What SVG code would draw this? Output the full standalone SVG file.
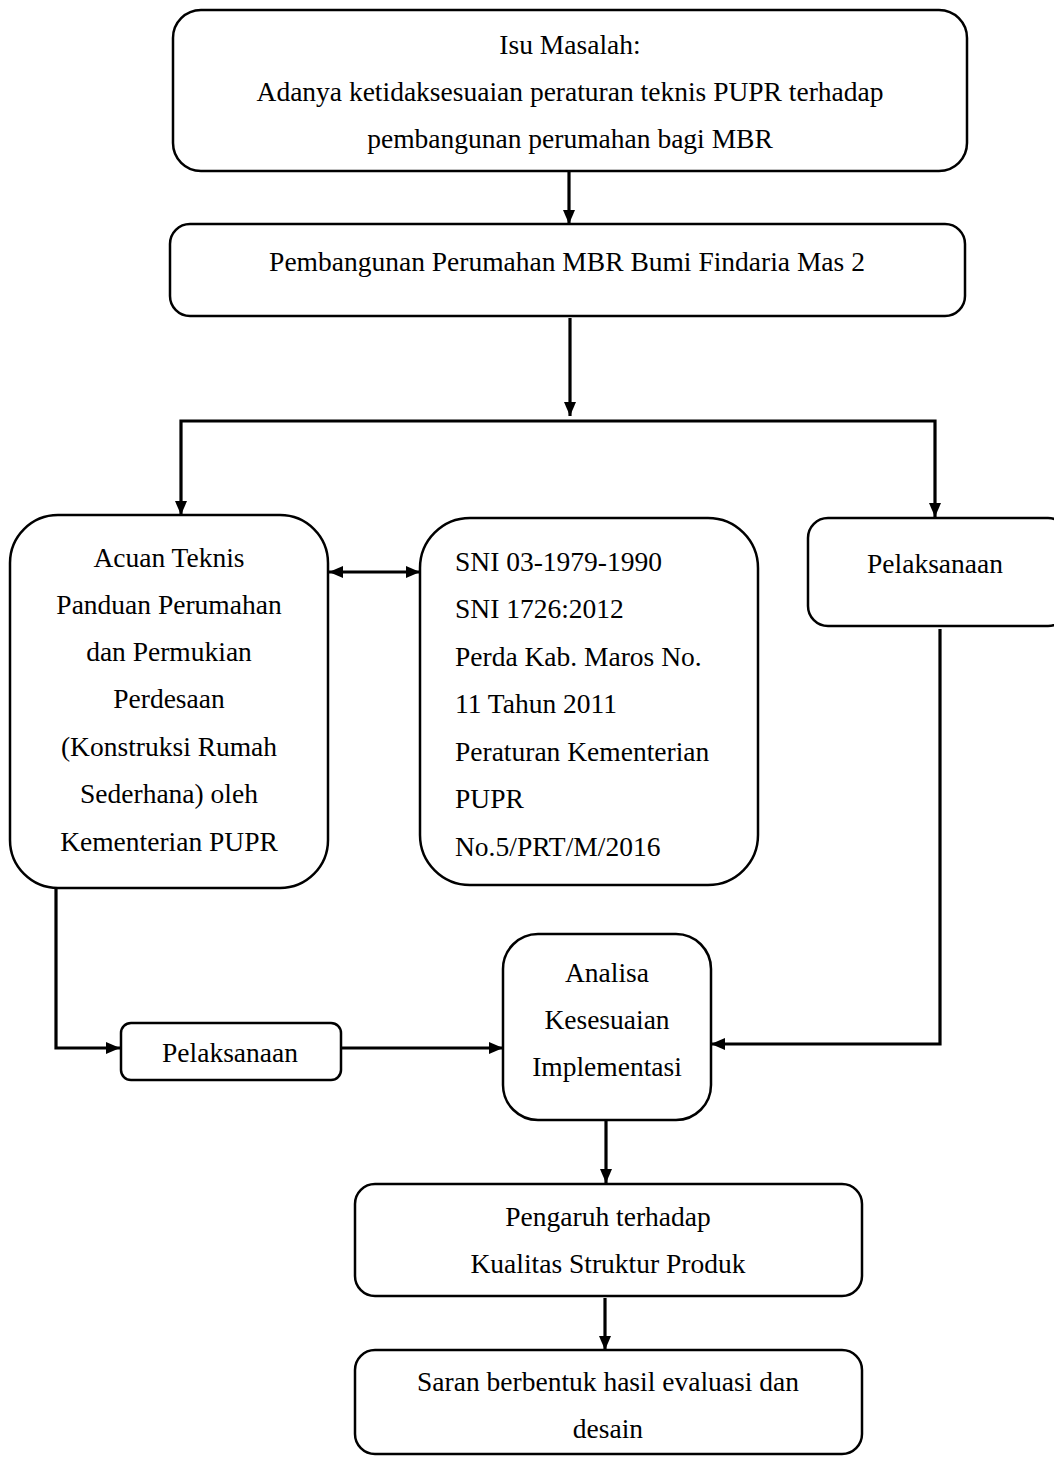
<svg xmlns="http://www.w3.org/2000/svg" width="1054" height="1457" viewBox="0 0 1054 1457">
<style>
  .box { fill: #ffffff; stroke: #000000; stroke-width: 2.5; }
  .t { font-family: "Liberation Serif", "Times New Roman", serif; font-size: 27.5px; fill: #000000; }
  .c { text-anchor: middle; }
  .conn { fill: none; stroke: #000000; stroke-width: 3.2; }
</style>
<defs>
  <marker id="ah" viewBox="0 0 14 12" refX="14" refY="6" markerWidth="14" markerHeight="12" markerUnits="userSpaceOnUse" orient="auto-start-reverse">
    <path d="M0,0 L14,6 L0,12 z" fill="#000000"/>
  </marker>
</defs>
<rect x="0" y="0" width="1054" height="1457" fill="#ffffff"/>

<g id="connectors">
  <path class="conn" d="M569,172 V224" marker-end="url(#ah)"/>
  <path class="conn" d="M570,318 V416" marker-end="url(#ah)"/>
  <path class="conn" d="M570,421 H181 V515" marker-end="url(#ah)"/>
  <path class="conn" d="M570,421 H935 V517" marker-end="url(#ah)"/>
  <path class="conn" d="M329,572 H420" marker-start="url(#ah)" marker-end="url(#ah)"/>
  <path class="conn" d="M56,888 V1048 H120" marker-end="url(#ah)"/>
  <path class="conn" d="M341,1048 H503" marker-end="url(#ah)"/>
  <path class="conn" d="M940,629 V1044 H711" marker-end="url(#ah)"/>
  <path class="conn" d="M606,1120 V1183" marker-end="url(#ah)"/>
  <path class="conn" d="M605,1298 V1350" marker-end="url(#ah)"/>
</g>

<g id="isu">
  <rect class="box" x="173" y="10" width="794" height="161" rx="28"/>
  <text class="t c" x="570" y="54">Isu Masalah:</text>
  <text class="t c" x="570" y="101">Adanya ketidaksesuaian peraturan teknis PUPR terhadap</text>
  <text class="t c" x="570" y="148">pembangunan perumahan bagi MBR</text>
</g>

<g id="pembangunan">
  <rect class="box" x="170" y="224" width="795" height="92" rx="20"/>
  <text class="t c" x="567" y="271">Pembangunan Perumahan MBR Bumi Findaria Mas 2</text>
</g>

<g id="acuan">
  <rect class="box" x="10" y="515" width="318" height="373" rx="48"/>
  <text class="t c" x="169" y="567">Acuan Teknis</text>
  <text class="t c" x="169" y="614">Panduan Perumahan</text>
  <text class="t c" x="169" y="661">dan Permukian</text>
  <text class="t c" x="169" y="708">Perdesaan</text>
  <text class="t c" x="169" y="756">(Konstruksi Rumah</text>
  <text class="t c" x="169" y="803">Sederhana) oleh</text>
  <text class="t c" x="169" y="851">Kementerian PUPR</text>
</g>

<g id="sni">
  <rect class="box" x="420" y="518" width="338" height="367" rx="50"/>
  <text class="t" x="455" y="571">SNI 03-1979-1990</text>
  <text class="t" x="455" y="618">SNI 1726:2012</text>
  <text class="t" x="455" y="666">Perda Kab. Maros No.</text>
  <text class="t" x="455" y="713">11 Tahun 2011</text>
  <text class="t" x="455" y="761">Peraturan Kementerian</text>
  <text class="t" x="455" y="808">PUPR</text>
  <text class="t" x="455" y="856">No.5/PRT/M/2016</text>
</g>

<g id="pelaksanaan-kanan">
  <rect class="box" x="808" y="518" width="260" height="108" rx="20"/>
  <text class="t c" x="935" y="573">Pelaksanaan</text>
</g>

<g id="pelaksanaan-kiri">
  <rect class="box" x="121" y="1023" width="220" height="57" rx="10"/>
  <text class="t c" x="230" y="1062">Pelaksanaan</text>
</g>

<g id="analisa">
  <rect class="box" x="503" y="934" width="208" height="186" rx="35"/>
  <text class="t c" x="607" y="982">Analisa</text>
  <text class="t c" x="607" y="1029">Kesesuaian</text>
  <text class="t c" x="607" y="1076">Implementasi</text>
</g>

<g id="pengaruh">
  <rect class="box" x="355" y="1184" width="507" height="112" rx="20"/>
  <text class="t c" x="608" y="1226">Pengaruh terhadap</text>
  <text class="t c" x="608" y="1273">Kualitas Struktur Produk</text>
</g>

<g id="saran">
  <rect class="box" x="355" y="1350" width="507" height="104" rx="20"/>
  <text class="t c" x="608" y="1391">Saran berbentuk hasil evaluasi dan</text>
  <text class="t c" x="608" y="1438">desain</text>
</g>
</svg>
